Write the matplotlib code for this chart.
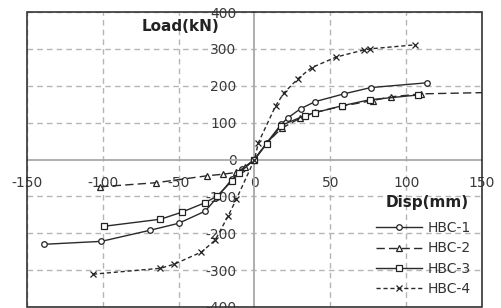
import numpy as np
import matplotlib.pyplot as plt
from matplotlib.patches import Rectangle
plt.rcParams['axes.unicode_minus'] = False

# data (Disp in mm, Load in kN)
hbc1_x = [-139, -101, -69, -50, -32.5, -24.7, -15, -8, 0, 8, 17.5, 22, 30.5, 40, 59, 76.6, 113.6]
hbc1_y = [-230, -222, -192, -173, -140, -103, -54, -25, 0, 45, 95, 113, 138, 157, 178, 195, 208]
hbc2_x = [-101.7, -65, -31, -21, -12, -6, 0, 8, 18, 30, 40, 58, 78, 90, 110, 170]
hbc2_y = [-74, -63, -44, -40, -35, -20, 0, 45, 85, 112, 128, 145, 160, 170, 178, 183]
hbc3_x = [-99, -62, -48, -32.5, -24.7, -15, -10, 0, 8, 17.5, 33, 40, 58, 76, 108]
hbc3_y = [-181, -162, -143, -117, -99, -59, -36, 0, 42, 92, 119, 127, 146, 162, 175]
hbc4_x = [-106.5, -62, -53, -35, -26, -17.5, -12, 0, 2.6, 14, 19.5, 28.6, 37.6, 54, 72, 76, 106]
hbc4_y = [-311, -295, -284, -251, -219, -154, -108, 0, 46, 146, 181, 219, 249, 278, 297, 300, 311]

labels = ['HBC-1', 'HBC-2', 'HBC-3', 'HBC-4']
xticks = [-150, -100, -50, 0, 50, 100, 150]
yticks = [-400, -300, -200, -100, 0, 100, 200, 300, 400]

fig = plt.figure(figsize=(5.02, 3.08), dpi=100)
ax = fig.add_axes([27/502, 1/308, 455/502, 295/308])

series = [(hbc1_x, hbc1_y, '-', 'o'),
          (hbc2_x, hbc2_y, (0, (6, 3)), '^'),
          (hbc3_x, hbc3_y, '-', 's'),
          (hbc4_x, hbc4_y, (0, (3, 2)), 'x')]
for (x, y, ls, mk), lab in zip(series, labels):
    ax.plot(x, y, linestyle=ls, marker=mk, color='#2a2a2a', lw=1.0,
            markersize=4, markerfacecolor='white', markeredgecolor='#222222',
            markeredgewidth=0.9, label=lab, zorder=3)

ax.set_xlim(-150, 150)
ax.set_ylim(-400, 400)
ax.set_xticks(xticks)
ax.set_yticks(yticks)

# grid, except at the zero lines which are the axes
for xv in xticks:
    if xv != 0:
        ax.axvline(xv, color='#b5b5b5', lw=1, ls=(0, (4, 3)), zorder=1)
for yv in yticks:
    if yv != 0:
        ax.axhline(yv, color='#b5b5b5', lw=1, ls=(0, (4, 3)), zorder=1)

ax.spines['left'].set_position('zero')
ax.spines['bottom'].set_position('zero')
for s in ['left', 'bottom']:
    ax.spines[s].set_color('#a8a8a8')
    ax.spines[s].set_linewidth(1.3)
ax.spines['top'].set_visible(False)
ax.spines['right'].set_visible(False)
ax.add_patch(Rectangle((0, 0), 1, 1, transform=ax.transAxes, fill=False,
                       edgecolor='#333333', lw=1.2, clip_on=False, zorder=5))

ax.tick_params(axis='both', length=0, labelsize=10, labelcolor='#3a3a3a')
ax.tick_params(axis='y', pad=13)
ax.tick_params(axis='x', pad=12)

ax.text(-49, 362, 'Load(kN)', fontsize=11, fontweight='bold', color='#222222',
        ha='center', va='center')
ax.text(113.6, -116, 'Disp(mm)', fontsize=11, fontweight='bold', color='#222222',
        ha='center', va='center')

ax.legend(loc='lower right', bbox_to_anchor=(1.0, 0.0), frameon=False,
          fontsize=10, handlelength=3.3, labelspacing=0.45, borderaxespad=0.4,
          handletextpad=0.4, labelcolor='#333333')

plt.savefig('out.png', dpi=100)
